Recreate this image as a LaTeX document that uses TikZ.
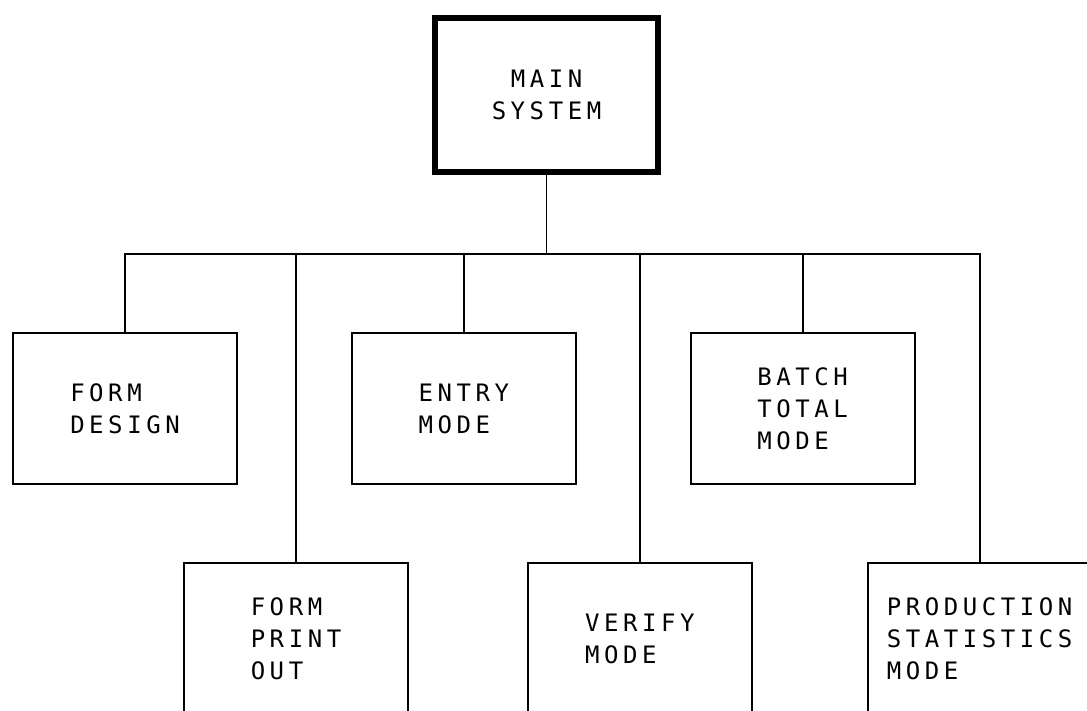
\documentclass[tikz,border=0pt]{standalone}
\usepackage{fontspec}
\newfontfamily\plotter{DejaVu Sans Mono}[LetterSpace=19]
\usetikzlibrary{positioning}

\begin{document}
\begin{tikzpicture}[
  x=1pt, y=-1pt,
  node distance=77pt and 113pt,
  txt/.style={font=\plotter\fontsize{24}{32}\selectfont},
  box/.style={draw, line width=1.8pt, align=left, minimum width=224pt, minimum height=151pt, inner sep=0pt, txt},
  mainbox/.style={draw, line width=6pt, align=center, minimum width=223pt, minimum height=154pt, txt},
  link/.style={line width=1.8pt}
]
\useasboundingbox (0,0) rectangle (1087,710);
\clip (0,0) rectangle (1087,710);

\node[mainbox] (main) at (546.5,95) {MAIN\\SYSTEM};

% first row
\node[box] (design) at (125,408.5) {FORM\\DESIGN};
\node[box, right=of design] (entry) {ENTRY\\MODE};
\node[box, right=of entry] (batch) {BATCH\\TOTAL\\MODE};

% second row
\node[box] (printout) at (296,638.5) {FORM\\PRINT\\OUT};
\node[box, right=118pt of printout] (verify) {VERIFY\\MODE};
\node[box, right=114pt of verify] (stats) {PRODUCTION\\STATISTICS\\MODE};

\coordinate (bus) at (546.5,254);
\draw[link] (main.south) -- (bus);
\draw[link] (design.north) |- (bus);
\draw[link] (stats.north) |- (bus);
\foreach \n in {printout, entry, verify, batch}
  \draw[link] (\n.north) -- (\n.north |- bus);
\end{tikzpicture}
\end{document}
